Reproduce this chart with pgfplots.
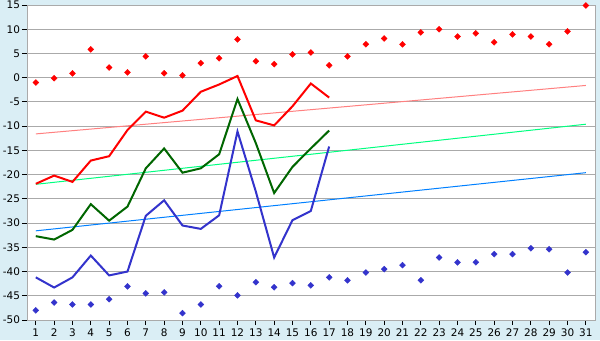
\documentclass[border=0pt]{standalone}
\usepackage{pgfplots}
\pgfplotsset{compat=1.18}
\usepackage{fontspec}
\setmainfont{DejaVu Sans}
\definecolor{bgblue}{RGB}{218,238,245}
\definecolor{gridgray}{RGB}{170,170,170}
\definecolor{dgreen}{RGB}{0,102,0}
\definecolor{lblue}{RGB}{51,51,204}
\definecolor{tpink}{RGB}{255,128,128}
\definecolor{tgreen}{RGB}{0,255,128}
\definecolor{tblue}{RGB}{0,128,255}
\begin{document}
\begin{tikzpicture}[x=1bp,y=1bp]
\fill[bgblue] (0,0) rectangle (600,340);
\useasboundingbox (0,0) rectangle (600,340);
\begin{axis}[
  at={(27bp,20bp)}, anchor=south west,
  width=568bp, height=315bp, scale only axis,
  xmin=0.52, xmax=31.5, ymin=-50, ymax=15,
  xtick={1,...,31}, ytick={-50,-45,...,15},
  axis background/.style={fill=white},
  axis line style={gridgray, line width=1bp},
  ymajorgrids, grid style={gridgray, line width=1bp},
  tick style={black, line width=1bp},
  tick align=outside, major tick length=5bp,
  xtick pos=bottom, ytick pos=left,
  tick label style={font=\fontsize{10.5}{12}\selectfont, text=black},
  /pgf/number format/assume math mode=true,
  xticklabel style={yshift=0bp},
  yticklabel style={xshift=1.5bp},
  clip=true,
]
% trend lines
\addplot[tpink, line width=1bp] coordinates {(1,-11.6) (31,-1.6)};
\addplot[tgreen, line width=1bp] coordinates {(1,-22.0) (31,-9.6)};
\addplot[tblue, line width=1bp] coordinates {(1,-31.6) (31,-19.6)};
% red line
\addplot[red, line width=2bp] coordinates {
(1,-21.9) (2,-20.2) (3,-21.5) (4,-17.1) (5,-16.2) (6,-10.8) (7,-7.0) (8,-8.25)
(9,-6.8) (10,-2.9) (11,-1.4) (12,0.35) (13,-8.8) (14,-9.85) (15,-5.9) (16,-1.2) (17,-4.1)};
% green line
\addplot[dgreen, line width=2bp] coordinates {
(1,-32.7) (2,-33.4) (3,-31.4) (4,-26.1) (5,-29.5) (6,-26.6) (7,-18.7) (8,-14.6)
(9,-19.6) (10,-18.7) (11,-15.8) (12,-4.4) (13,-13.5) (14,-23.8) (15,-18.4) (16,-14.6) (17,-10.9)};
% blue line
\addplot[lblue, line width=2bp] coordinates {
(1,-41.2) (2,-43.3) (3,-41.2) (4,-36.7) (5,-40.8) (6,-40.0) (7,-28.5) (8,-25.3)
(9,-30.5) (10,-31.2) (11,-28.4) (12,-11.1) (13,-23.5) (14,-37.1) (15,-29.4) (16,-27.5) (17,-14.2)};
% red markers
\addplot[only marks, mark=square*, mark size=2.1bp, mark options={rotate=45}, color=red] coordinates {
(1,-1.0) (2,-0.1) (3,0.9) (4,5.85) (5,2.1) (6,1.1) (7,4.4) (8,0.9) (9,0.5) (10,3.0)
(11,4.0) (12,7.9) (13,3.4) (14,2.8) (15,4.8) (16,5.2) (17,2.55) (18,4.4) (19,6.9) (20,8.1)
(21,6.9) (22,9.35) (23,10.0) (24,8.5) (25,9.15) (26,7.3) (27,8.95) (28,8.5) (29,6.9) (30,9.55) (31,14.9)};
% blue markers
\addplot[only marks, mark=square*, mark size=2.1bp, mark options={rotate=45}, color=lblue] coordinates {
(1,-48.0) (2,-46.4) (3,-46.8) (4,-46.8) (5,-45.7) (6,-43.05) (7,-44.5) (8,-44.3) (9,-48.6) (10,-46.8)
(11,-43.05) (12,-44.9) (13,-42.2) (14,-43.25) (15,-42.4) (16,-42.85) (17,-41.2) (18,-41.8) (19,-40.2) (20,-39.5)
(21,-38.7) (22,-41.8) (23,-37.1) (24,-38.1) (25,-38.1) (26,-36.4) (27,-36.4) (28,-35.2) (29,-35.4) (30,-40.2) (31,-36.0)};
\end{axis}
\end{tikzpicture}
\end{document}
